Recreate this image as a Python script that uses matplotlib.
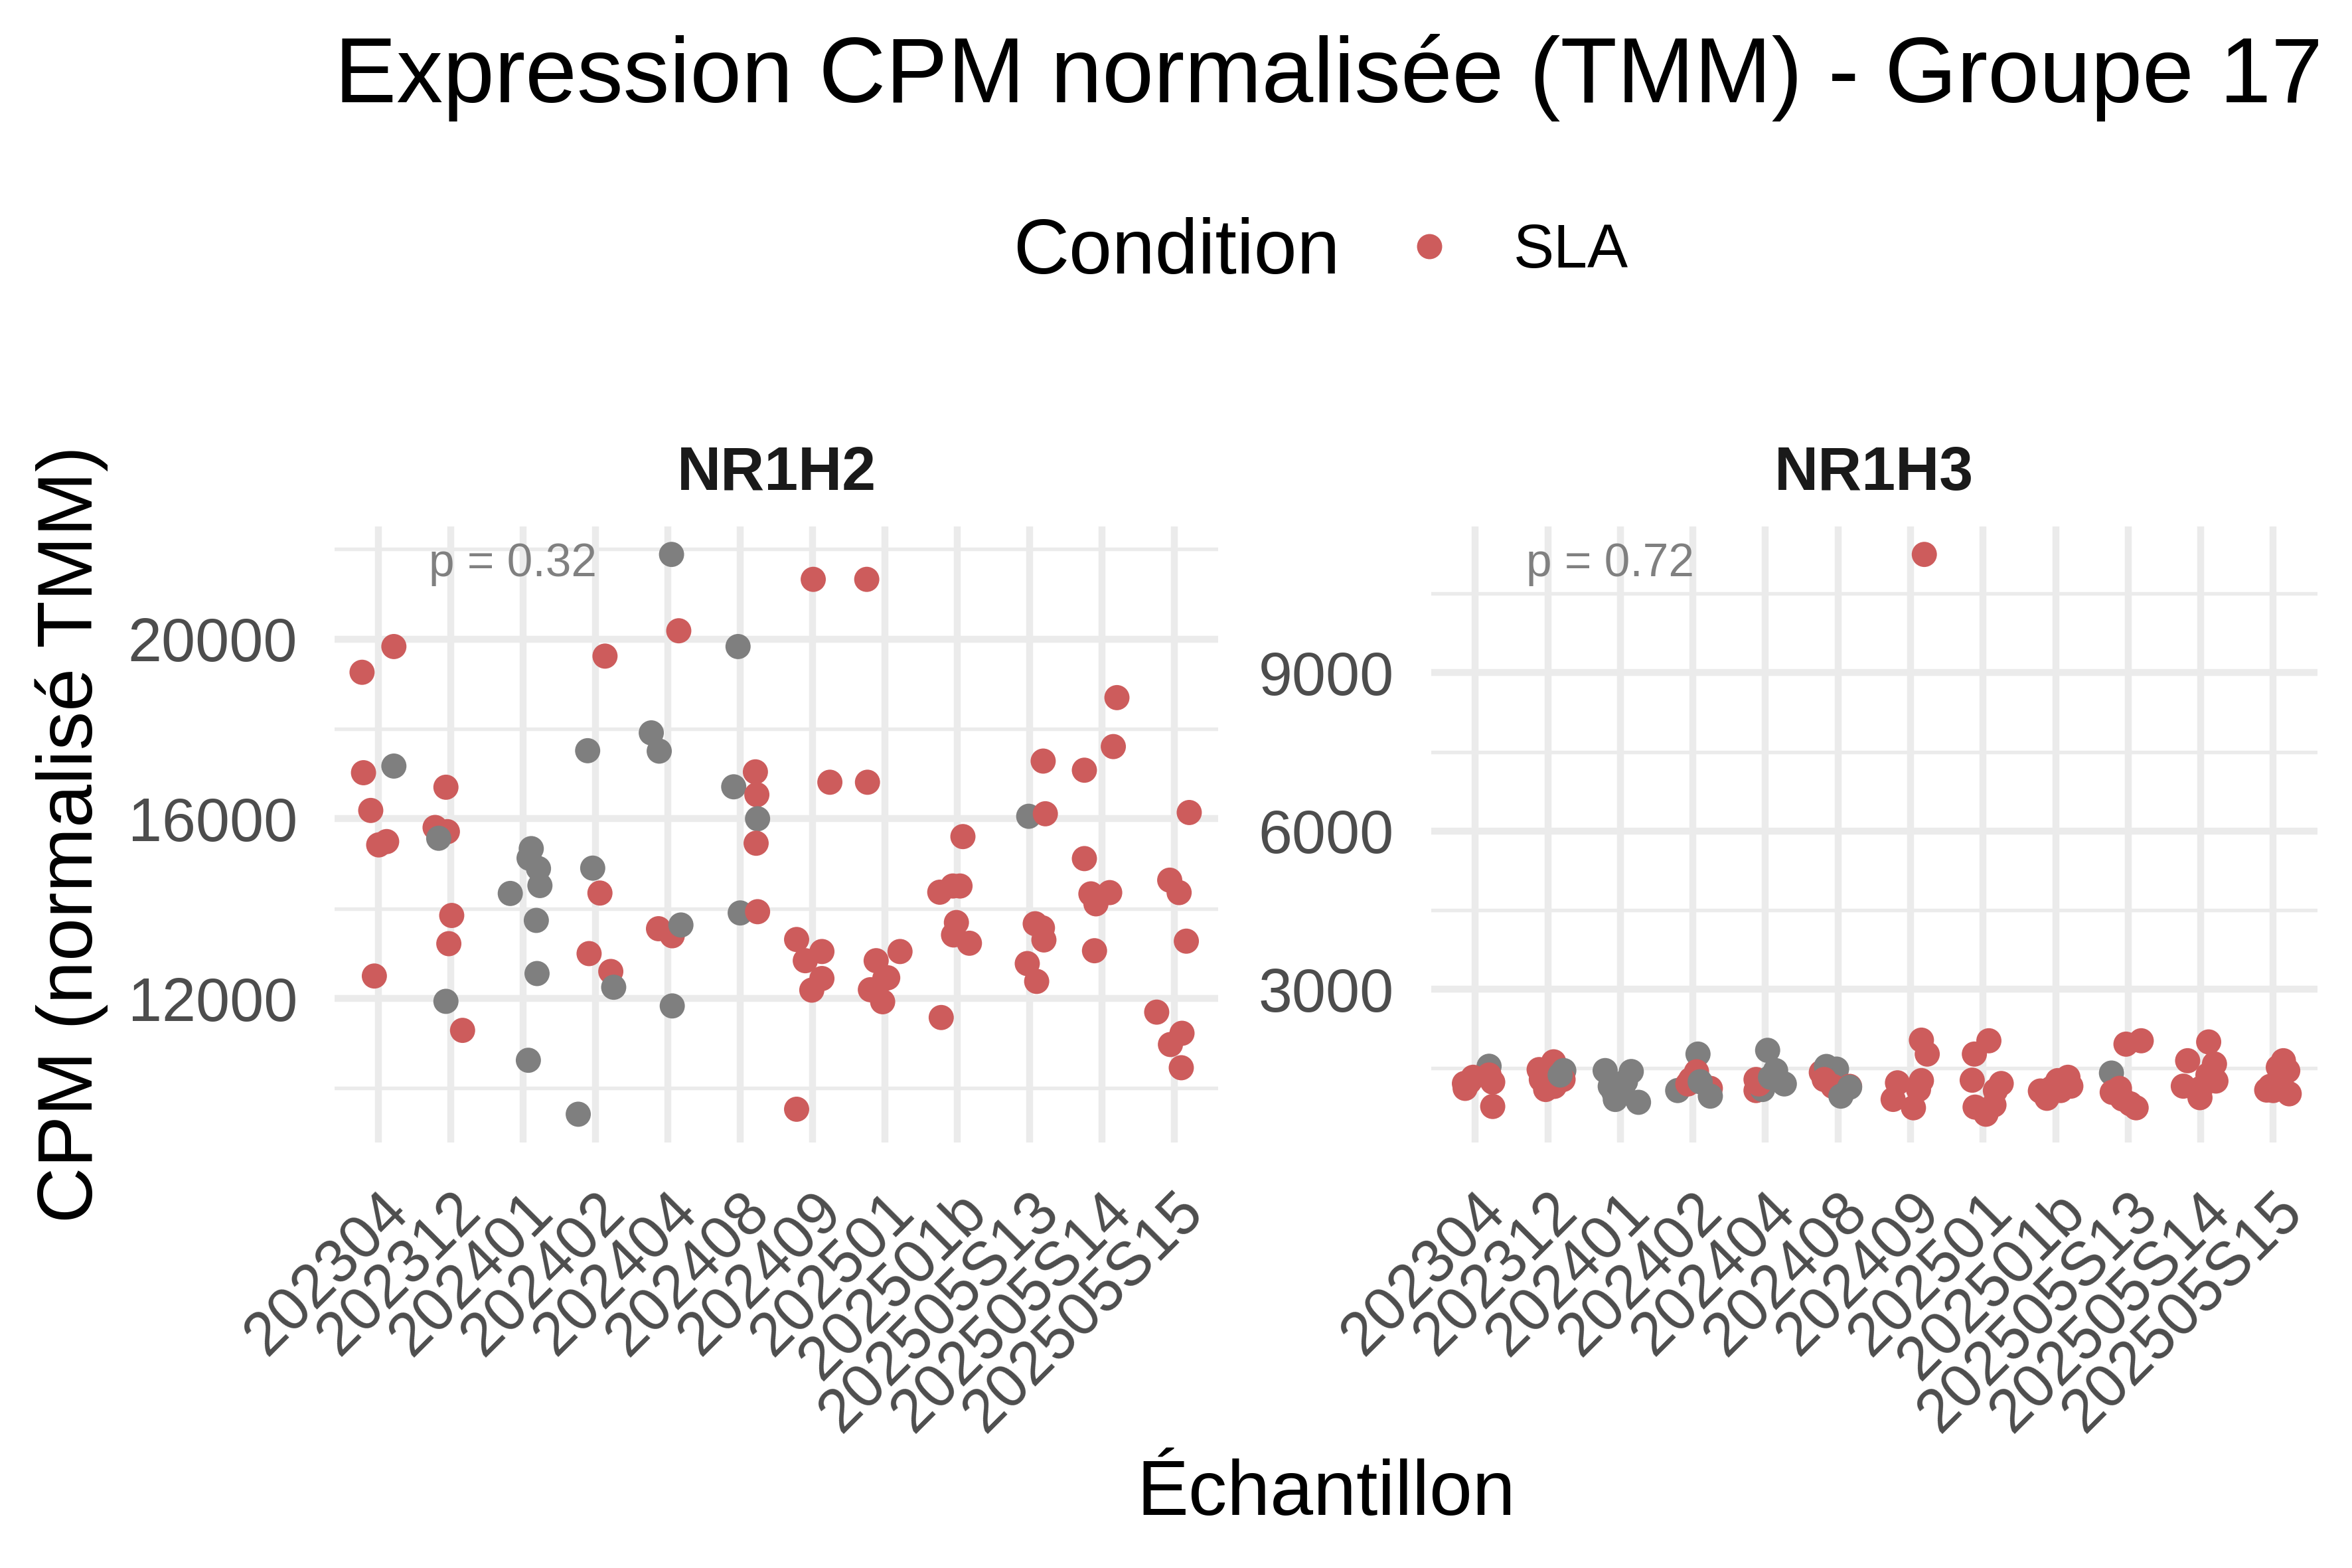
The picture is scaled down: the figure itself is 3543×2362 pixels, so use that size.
import matplotlib
matplotlib.use("Agg")
import matplotlib.pyplot as plt
from matplotlib.lines import Line2D
import numpy as np

plt.rcParams['font.family'] = ['Liberation Sans', 'DejaVu Sans']

# ---------------- data ----------------
batches = ["202304", "202312", "202401", "202402", "202404", "202408",
           "202409", "202501", "202501b", "202505S13", "202505S14", "202505S15"]
genes = ["NR1H2", "NR1H3"]
pvalues = ["0.32", "0.72"]
title = "Expression CPM normalisée (TMM) - Groupe 17"
x_title = "Échantillon"
y_title = "CPM (normalisé TMM)"
legend_title = "Condition"
legend_label = "SLA"

# NR1H2: CPM per batch (8 samples each)
nr1h2_cpm = [
    [19834, 19261, 17025, 17173, 16185, 15418, 15492, 12499],
    [16702, 15806, 15713, 15566, 13847, 13219, 11935, 11289],
    [15335, 15122, 14891, 14513, 14337, 13737, 12554, 10623],
    [19621, 17515, 14901, 14346, 12998, 12600, 12249, 9422],
    [21885, 20185, 17912, 17506, 13552, 13395, 13635, 11833],
    [19834, 17044, 16711, 16536, 16000, 15455, 13903, 13931],
    [21330, 16813, 13312, 13044, 12840, 12443, 12185, 9533],
    [21330, 16813, 12840, 13044, 12443, 12194, 11926, 12460],
    [15603, 14365, 14503, 14503, 13690, 13413, 13229, 11575],
    [16055, 17284, 16111, 13663, 13570, 13302, 12776, 12379],
    [18697, 17607, 17081, 15113, 14328, 14356, 14106, 13062],
    [16139, 14633, 14356, 13275, 11695, 11224, 10974, 10457],
]
nr1h2_cond = [
    "SSSNSSSS", "SSSNSSNS", "NNNNNNNN", "SNNSSSNN", "NSNNSSNN", "NSNSNSNS",
    "SSSSSSSS", "SSSSSSSS", "SSSSSSSS", "NSSSSSSS", "SSSSSSSS", "SSSSSSSS",
]
# horizontal jitter offsets (category units) as seen in the picture
nr1h2_jitter = [
    [0.21, -0.23, -0.21, 0.21, -0.11, 0.00, 0.11, -0.06],
    [-0.07, -0.22, -0.05, -0.17, 0.01, -0.03, -0.07, 0.16],
    [0.11, 0.08, 0.21, 0.23, -0.18, 0.18, 0.19, 0.07],
    [0.13, -0.11, -0.04, 0.06, -0.09, 0.21, 0.25, -0.24],
    [0.05, 0.15, -0.23, -0.12, -0.13, 0.06, 0.18, 0.06],
    [-0.03, 0.21, -0.09, 0.23, 0.24, 0.22, 0.00, 0.24],
    [0.01, 0.24, -0.22, 0.13, -0.10, 0.13, -0.01, -0.22],
    [-0.25, -0.24, -0.12, 0.21, 0.00, -0.20, -0.03, 0.04],
    [0.08, -0.24, -0.06, 0.04, -0.01, -0.05, 0.17, -0.22],
    [-0.01, 0.19, 0.22, 0.08, 0.18, 0.20, -0.03, 0.10],
    [0.21, 0.16, -0.24, -0.24, -0.15, 0.11, -0.08, -0.10],
    [0.21, -0.06, 0.07, 0.17, -0.24, 0.11, -0.05, 0.10],
]

# NR1H3
nr1h3_cpm = [
    [1541, 1214, 1332, 1122, 1375, 1241, 779, 1250],
    [1478, 1625, 1459, 1290, 1101, 1290, 1160, 1375],
    [1459, 1441, 1160, 1047, 912, 858, 1122, 1248],
    [1772, 1437, 1290, 1081, 1122, 975, 1206, 1248],
    [1843, 1459, 1290, 1081, 1206, 1101, 1206, 1332],
    [1424, 1537, 1487, 1290, 1160, 1160, 975, 1143],
    [11241, 2036, 1772, 1227, 1269, 913, 754, 1101],
    [2024, 1772, 1277, 1214, 767, 632, 808, 1081],
    [1332, 1269, 1072, 934, 1164, 1081, 1122, 1047],
    [1412, 2024, 1960, 1047, 922, 754, 829, 1122],
    [2002, 1646, 1584, 1261, 1164, 946, 1375, 1122],
    [1646, 1521, 1457, 1090, 1019, 1081, 1160, 1160],
]
nr1h3_cond = [
    "NSSSSSSS", "SSNSSSSN", "NNNNNNNN", "NSSNSNSN", "NNSSNNSN", "SNNSSSNN",
    "SSSSSSSS", "SSSSSSSS", "SSSSSSSS", "NSSSSSSS", "SSSSSSSS", "SSSSSSSS",
]
nr1h3_jitter = [
    [0.19, -0.15, -0.03, -0.14, 0.19, 0.24, 0.24, -0.08],
    [-0.12, 0.08, 0.22, 0.21, -0.03, -0.09, 0.09, 0.17],
    [-0.21, 0.15, -0.14, -0.09, -0.07, 0.25, 0.03, 0.07],
    [0.07, 0.05, -0.03, -0.21, 0.24, 0.24, -0.07, 0.10],
    [0.03, 0.14, -0.13, -0.13, 0.26, -0.04, -0.09, 0.07],
    [-0.23, -0.16, -0.02, -0.19, -0.07, 0.16, 0.04, 0.16],
    [0.19, 0.15, 0.23, -0.18, 0.15, -0.24, 0.04, 0.11],
    [0.08, -0.12, -0.15, 0.25, -0.11, 0.04, 0.15, 0.17],
    [0.17, 0.03, -0.21, -0.12, 0.21, 0.07, -0.06, -0.14],
    [-0.23, 0.18, -0.03, -0.22, -0.08, 0.11, 0.03, -0.12],
    [0.11, -0.18, 0.19, 0.21, -0.24, -0.01, 0.10, 0.00],
    [0.14, 0.07, 0.20, -0.09, 0.22, 0.00, 0.12, -0.04],
]

nr1h2_yticks = [12000, 16000, 20000]
nr1h3_yticks = [3000, 6000, 9000]

# ---------------- style ----------------
W, H = 3543, 2362
DPI = 300
col_sla = "#CD5C5C"
col_na = "#7F7F7F"
grid_col = "#EBEBEB"
tick_col = "#4D4D4D"
ms_pt = 9.1

fig = plt.figure(figsize=(W / DPI, H / DPI), dpi=DPI)
fig.patch.set_facecolor("white")

def fx(px):
    return px / W

def fy(py):
    return 1 - py / H

panel_top, panel_bot = 793, 1720.6
panels = [(504, 1835), (2155.7, 3491)]

datasets = [
    (nr1h2_cpm, nr1h2_cond, nr1h2_jitter, nr1h2_yticks),
    (nr1h3_cpm, nr1h3_cond, nr1h3_jitter, nr1h3_yticks),
]

for k, ((l, r), (cpm, cond, jit, yt)) in enumerate(zip(panels, datasets)):
    ax = fig.add_axes([fx(l), fy(panel_bot), (r - l) / W, (panel_bot - panel_top) / H])
    xs, ys, cs = [], [], []
    for i in range(len(batches)):
        for j in range(len(cpm[i])):
            xs.append(i + jit[i][j])
            ys.append(cpm[i][j])
            cs.append(col_sla if cond[i][j] == "S" else col_na)
    ax.scatter(xs, ys, s=ms_pt ** 2, c=cs, linewidths=0, zorder=3)
    ys = np.array(ys)
    rng = ys.max() - ys.min()
    ax.set_ylim(ys.min() - 0.05 * rng, ys.max() + 0.05 * rng)
    ax.set_xlim(-0.61, len(batches) - 1 + 0.61)
    ax.set_xticks(range(len(batches)))
    ax.set_xticklabels(batches, rotation=45, ha="right", va="top",
                       rotation_mode="anchor", fontsize=22, color=tick_col)
    ax.set_yticks(yt)
    ax.set_yticklabels([str(v) for v in yt], fontsize=22, color=tick_col)
    step = yt[1] - yt[0]
    minors = [yt[0] - step / 2] + [v + step / 2 for v in yt]
    ax.set_yticks(minors, minor=True)
    ax.tick_params(axis="both", which="both", length=0)
    ax.tick_params(axis="y", pad=13.4)
    ax.tick_params(axis="x", pad=14.5)
    ax.grid(which="major", color=grid_col, lw=2.5)
    ax.grid(which="minor", axis="y", color=grid_col, lw=1.3)
    ax.set_axisbelow(True)
    for sp in ax.spines.values():
        sp.set_visible(False)
    ax.set_title(genes[k], fontsize=22, fontweight="bold", color="#1A1A1A", pad=13.2)
    ax.text(0.202, 0.939, "p = " + pvalues[k], transform=ax.transAxes,
            ha="center", va="center", fontsize=16.7, color="#808080")

# titles
fig.text(fx(504), fy(154), title, fontsize=33.5, ha="left", va="baseline", color="black")
fig.text(fx(1997.5), fy(2282), x_title, fontsize=28, ha="center", va="baseline", color="black")
fig.text(fx(138.6), fy((panel_top + panel_bot) / 2), y_title, fontsize=28, rotation=90,
         rotation_mode="anchor", ha="center", va="baseline", color="black")

# legend
fig.text(fx(1526), fy(412), legend_title, fontsize=28, ha="left", va="baseline", color="black")
fig.add_artist(Line2D([fx(2153)], [fy(371)], marker="o", ms=ms_pt, color=col_sla,
                      markeredgewidth=0, linestyle="none", transform=fig.transFigure))
fig.text(fx(2280), fy(403), legend_label, fontsize=22, ha="left", va="baseline", color="black")

fig.savefig("out.png", dpi=DPI, facecolor="white")
